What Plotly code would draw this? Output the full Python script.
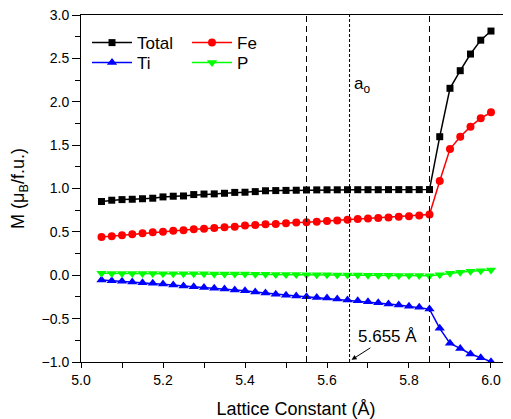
import plotly.graph_objects as go

lattice = [5.05, 5.075, 5.1, 5.125, 5.15, 5.175, 5.2, 5.225, 5.25, 5.275, 5.3, 5.325,
           5.35, 5.375, 5.4, 5.425, 5.45, 5.475, 5.5, 5.525, 5.55, 5.575, 5.6, 5.625,
           5.65, 5.675, 5.7, 5.725, 5.75, 5.775, 5.8, 5.825, 5.85, 5.875, 5.9, 5.925,
           5.95, 5.975, 6.0]

total = [0.85, 0.865, 0.872, 0.876, 0.882, 0.888, 0.903, 0.911, 0.914, 0.93, 0.936, 0.938,
         0.945, 0.955, 0.957, 0.964, 0.974, 0.976, 0.978, 0.98, 0.983, 0.984, 0.985, 0.985,
         0.986, 0.986, 0.986, 0.986, 0.987, 0.987, 0.987, 0.987, 0.988, 1.597, 2.155, 2.358,
         2.55, 2.71, 2.815]

fe = [0.44, 0.45, 0.46, 0.472, 0.483, 0.497, 0.502, 0.514, 0.52, 0.53, 0.537, 0.545,
      0.552, 0.56, 0.573, 0.58, 0.587, 0.59, 0.598, 0.607, 0.611, 0.618, 0.625, 0.632,
      0.64, 0.647, 0.653, 0.66, 0.666, 0.673, 0.68, 0.688, 0.70, 1.087, 1.455, 1.597,
      1.713, 1.81, 1.878]

ti = [-0.055, -0.062, -0.07, -0.079, -0.087, -0.093, -0.10, -0.112, -0.124, -0.132, -0.14, -0.151,
      -0.159, -0.17, -0.178, -0.193, -0.206, -0.218, -0.23, -0.238, -0.247, -0.257, -0.263, -0.274,
      -0.285, -0.293, -0.306, -0.318, -0.33, -0.343, -0.356, -0.37, -0.39, -0.612, -0.785, -0.843,
      -0.908, -0.95, -0.997]

p = [0.022, 0.021, 0.021, 0.02, 0.02, 0.019, 0.018, 0.018, 0.017, 0.016, 0.016, 0.015,
     0.014, 0.014, 0.013, 0.012, 0.011, 0.01, 0.009, 0.008, 0.007, 0.006, 0.005, 0.004,
     0.003, 0.002, 0.001, 0.0, -0.001, -0.002, -0.003, -0.004, -0.005, 0.005, 0.022, 0.034,
     0.045, 0.052, 0.06]

vlines = [5.55, 5.85]
a0 = 5.655

FONT = "Liberation Sans, Arial, sans-serif"

fig = go.Figure()
series = [
    ("Total", total, "#000000", "square", 7, "legend"),
    ("Fe", fe, "#ff0000", "circle", 8, "legend2"),
    ("Ti", ti, "#0000ff", "triangle-up", 9, "legend3"),
    ("P", p, "#00ff00", "triangle-down", 9, "legend4"),
]
for name, vals, col, sym, sz, lg in series:
    fig.add_trace(go.Scatter(
        x=lattice, y=vals, name=name, mode="lines+markers",
        line=dict(color=col, width=1.5),
        marker=dict(symbol=sym, size=sz, color=col),
        legend=lg,
    ))

for xv in vlines:
    fig.add_shape(type="line", xref="x", yref="paper", x0=xv, x1=xv, y0=0, y1=1,
                  line=dict(color="black", width=1, dash="6px,4px"))
fig.add_shape(type="line", xref="x", yref="paper", x0=a0, x1=a0, y0=0, y1=1,
              line=dict(color="black", width=1, dash="3px,2px"))

fig.add_annotation(x=a0, y=2.19, xref="x", yref="y", text="a<sub>o</sub>",
                   showarrow=False, xanchor="left", xshift=2,
                   font=dict(family=FONT, size=17, color="black"))
fig.add_annotation(x=5.66, y=-0.975, xref="x", yref="y", text="5.655 Å",
                   showarrow=True, ax=36, ay=-23, arrowhead=2, arrowsize=1,
                   arrowwidth=1, arrowcolor="black",
                   font=dict(family=FONT, size=17, color="black"))

legend_common = dict(bgcolor="rgba(0,0,0,0)", borderwidth=0, itemwidth=40,
                     font=dict(family=FONT, size=17, color="black"),
                     xanchor="left", yanchor="top", tracegroupgap=0)

LX1, LX2 = 0.014, 0.2465
LY1, LY2 = 0.971, 0.9135

fig.update_layout(
    template="none",
    width=503, height=411,
    margin=dict(l=73, r=0, t=7, b=57, autoexpand=False),
    paper_bgcolor="white", plot_bgcolor="white",
    font=dict(family=FONT, size=14, color="black"),
    showlegend=True,
    legend=dict(x=LX1, y=LY1, **legend_common),
    legend2=dict(x=LX2, y=LY1, **legend_common),
    legend3=dict(x=LX1, y=LY2, **legend_common),
    legend4=dict(x=LX2, y=LY2, **legend_common),
    xaxis=dict(
        range=[5.0, 6.0488], showgrid=False, zeroline=False, automargin=False,
        showline=True, linecolor="black", linewidth=1, mirror=True,
        ticks="outside", ticklen=5, tickwidth=1, tickcolor="black",
        dtick=0.2, tick0=5.0, tickformat=".1f", ticklabeloverflow="allow",
        minor=dict(dtick=0.1, ticks="outside", ticklen=5, tickcolor="black", showgrid=False),
        tickfont=dict(family=FONT, size=14),
        title=dict(text="Lattice Constant (Å)", font=dict(family=FONT, size=18), standoff=15),
    ),
    yaxis=dict(
        range=[-1.0, 3.0], showgrid=False, zeroline=False, automargin=False,
        showline=True, linecolor="black", linewidth=1, mirror=True,
        ticks="outside", ticklen=8, tickwidth=1, tickcolor="black",
        dtick=0.5, tick0=0, tickformat=".1f", ticklabeloverflow="allow",
        minor=dict(dtick=0.25, ticks="outside", ticklen=5, tickcolor="black", showgrid=False),
        tickfont=dict(family=FONT, size=14),
        title=dict(text="M (μ<sub>B</sub>/f.u.)", font=dict(family=FONT, size=18), standoff=12),
    ),
    xaxis2=dict(
        overlaying="x", side="top", range=[5.0, 6.0488], showgrid=False, zeroline=False,
        showline=False, ticks="inside", ticklen=7, tickcolor="black", automargin=False,
        dtick=0.1, tick0=5.0, showticklabels=False,
    ),
    yaxis2=dict(
        overlaying="y", side="right", range=[-1.0, 3.0], showgrid=False, zeroline=False,
        showline=False, ticks="inside", ticklen=6, tickcolor="black", automargin=False,
        dtick=0.25, tick0=0, showticklabels=False,
    ),
)

fig.write_html("out.html")
